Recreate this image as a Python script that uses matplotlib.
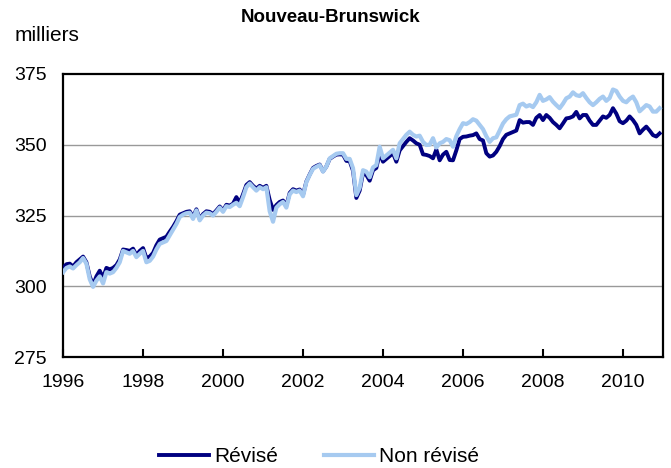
import numpy as np
import matplotlib
matplotlib.use("Agg")
import matplotlib.pyplot as plt

plt.rcParams["font.family"] = ["Liberation Sans", "DejaVu Sans"]

# Emploi mensuel, Nouveau-Brunswick (milliers), janv. 1996 - déc. 2010
non_revise = [
    305.0, 306.5, 307.0, 306.3, 307.5, 308.5, 310.0, 308.0, 302.5, 299.8, 302.0, 303.5,  # 1996
    301.0, 305.0, 304.5, 305.0, 306.5, 308.5, 312.5, 312.0, 311.5, 312.5, 310.3, 311.5,  # 1997
    312.5, 308.5, 309.0, 310.5, 313.0, 315.0, 315.5, 316.0, 318.0, 320.0, 322.0, 324.5,  # 1998
    325.3, 325.8, 326.0, 323.8, 326.8, 323.3, 325.0, 326.0, 325.8, 325.0, 326.3, 327.8,  # 1999
    326.3, 328.3, 328.0, 328.8, 329.5, 328.3, 331.5, 335.0, 336.3, 335.0, 333.8, 335.0,  # 2000
    334.3, 335.0, 326.5, 322.8, 327.8, 329.0, 329.8, 327.8, 332.5, 333.8, 333.3, 333.8,  # 2001
    331.8, 336.8, 339.3, 341.5, 342.2, 342.8, 340.5, 342.3, 345.2, 346.0, 346.8, 347.0,  # 2002
    347.0, 345.0, 345.0, 341.7, 332.2, 334.8, 341.0, 340.5, 338.5, 342.0, 342.8, 349.3,  # 2003
    345.2, 346.2, 347.2, 348.2, 345.2, 350.5, 352.0, 353.5, 354.6, 353.5, 352.9, 353.2,  # 2004
    351.0, 349.9, 350.0, 352.3, 349.0, 350.5, 351.0, 352.0, 351.6, 349.3, 353.0, 355.5,  # 2005
    357.6, 357.3, 358.0, 359.0, 358.5, 357.0, 355.5, 353.0, 351.0, 352.3, 352.6, 355.0,  # 2006
    357.5, 359.0, 360.0, 360.3, 360.6, 364.0, 364.5, 363.5, 364.0, 363.3, 365.0, 367.6,  # 2007
    365.5, 366.0, 366.8, 365.2, 364.0, 362.9, 364.5, 366.4, 367.0, 368.5, 367.5, 367.2,  # 2008
    368.2, 366.5, 365.0, 364.0, 365.0, 366.2, 367.0, 365.5, 366.5, 369.5, 369.0, 367.0,  # 2009
    365.5, 365.0, 366.2, 367.0, 365.0, 361.8, 362.9, 364.0, 363.5, 361.7, 361.7, 362.9,  # 2010
]

revise = [
    306.5, 307.8, 308.0, 307.0, 308.5, 309.5, 310.5, 308.5, 303.5, 300.5, 303.5, 305.5,  # 1996
    303.0, 306.5, 306.0, 306.5, 307.5, 309.5, 313.0, 312.8, 312.5, 313.3, 311.0, 312.5,  # 1997
    313.5, 310.0, 310.5, 311.8, 314.5, 316.5, 317.0, 317.5, 319.3, 321.0, 323.0, 325.3,  # 1998
    325.8, 326.3, 326.5, 324.5, 327.2, 323.8, 325.5, 326.5, 326.3, 325.5, 326.8, 328.2,  # 1999
    326.8, 328.8, 328.5, 329.2, 331.5, 329.5, 332.5, 335.8, 336.8, 335.5, 334.5, 335.5,  # 2000
    334.8, 335.5, 330.5, 327.0, 328.7, 329.8, 330.3, 328.5, 333.0, 334.3, 333.8, 334.2,  # 2001
    332.3, 337.0, 339.5, 341.8, 342.5, 343.0, 340.6, 342.3, 345.0, 345.8, 346.5, 346.6,  # 2002
    346.5, 344.3, 344.2, 340.8, 331.2, 333.8, 340.0, 339.3, 337.3, 341.0, 341.8, 347.0,  # 2003
    344.0, 345.0, 346.0, 347.0, 344.0, 348.0, 349.5, 351.0, 352.3, 351.5, 350.5, 350.0,  # 2004
    346.6, 346.4, 346.0, 345.2, 348.3, 344.5, 346.5, 347.5, 344.6, 344.5, 348.0, 352.0,  # 2005
    352.8, 352.9, 353.2, 353.4, 354.0, 352.0, 351.5, 347.0, 345.8, 346.2, 347.5, 349.5,  # 2006
    352.0, 353.5, 354.0, 354.5, 355.0, 358.7, 357.8, 358.0, 358.0, 357.0, 359.5, 360.5,  # 2007
    358.7, 360.5, 359.5, 358.0, 357.0, 355.8, 357.5, 359.3, 359.5, 360.0, 361.6, 359.3,  # 2008
    360.5, 360.5, 358.5, 357.0, 357.0, 358.5, 360.0, 359.5, 360.5, 362.9, 361.0, 358.3,  # 2009
    357.6, 358.5, 360.0, 358.7, 357.0, 354.0, 355.3, 356.4, 355.0, 353.4, 352.9, 354.0,  # 2010
]

start_year = 1996
year_ticks = list(range(1996, 2011, 2))
y_ticks = [275, 300, 325, 350, 375]

dates = start_year + np.arange(len(revise)) / 12.0

fig = plt.figure(figsize=(6.71, 4.68), dpi=100)
ax = fig.add_axes([0.094, 0.237, 0.894, 0.605])

ax.plot(dates, revise, color="#000080", linewidth=2.8, label="Révisé", zorder=3)
ax.plot(dates, non_revise, color="#A6CAF0", linewidth=3.0, label="Non révisé", zorder=4)

ax.set_xlim(1996, 2011)
ax.set_ylim(275, 375)
ax.set_xticks(year_ticks)
ax.set_yticks(y_ticks)
ax.tick_params(axis="x", direction="in", length=6, width=1.5, pad=12, labelsize=14)
ax.tick_params(axis="y", length=0, pad=12, labelsize=14)

for y in [300, 325, 350]:
    ax.axhline(y, color="#999999", linewidth=1.0, zorder=1)

for s in ax.spines.values():
    s.set_linewidth(1.6)
    s.set_color("black")

fig.text(0.492, 0.962, "Nouveau-Brunswick", ha="center", va="center",
         fontsize=13.5, fontweight="bold")
fig.text(0.022, 0.925, "milliers", ha="left", va="center", fontsize=15)

fig.legend(loc="center", bbox_to_anchor=(0.475, 0.024), ncol=2, frameon=False,
           fontsize=15, handlelength=2.4, columnspacing=2.2, handletextpad=0.25)

fig.savefig("out.png", dpi=100)
